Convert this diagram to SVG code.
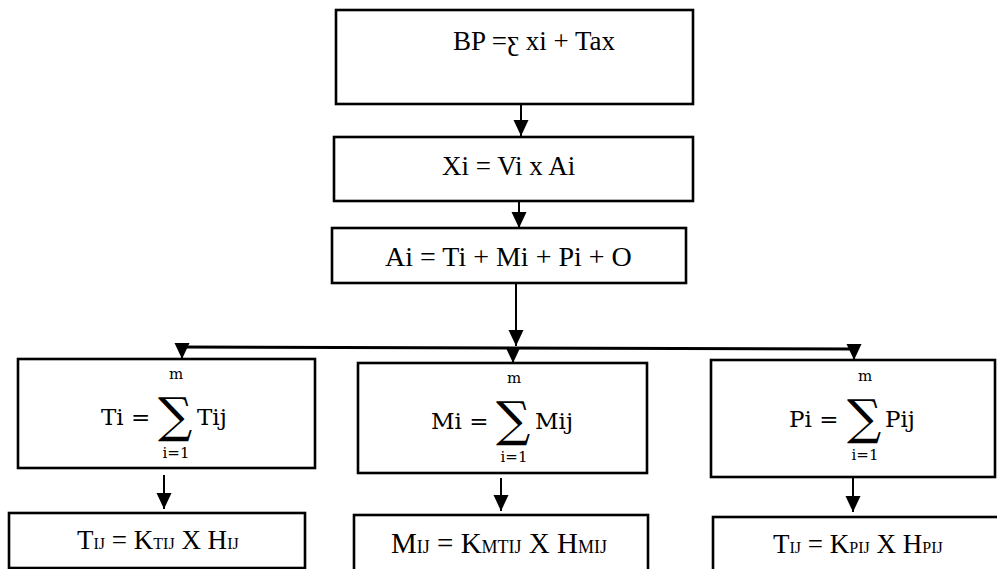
<svg xmlns="http://www.w3.org/2000/svg" width="997" height="569" viewBox="0 0 997 569">
<style>
.box{fill:#fff;stroke:#000;stroke-width:2.6}
.t{font-family:"Liberation Serif","Times New Roman",serif;font-size:27px;fill:#000}
.m{font-family:"DejaVu Serif",serif;font-size:23px;fill:#000}
.ms{font-family:"DejaVu Serif",serif;font-size:15px;fill:#000}
.sig{font-family:"DejaVu Serif",serif;font-size:48px;fill:#000}
.sub{font-size:16px}
.c line{stroke:#000;stroke-width:2}
</style>
<defs>
<marker id="ah" markerWidth="16" markerHeight="16" refX="16" refY="7.5" orient="auto" markerUnits="userSpaceOnUse">
<path d="M0,0 L16,7.5 L0,15 Z" fill="#000"/>
</marker>
</defs>
<g class="c">
<line x1="521" y1="104" x2="521" y2="136" marker-end="url(#ah)"/>
<line x1="519" y1="201" x2="519" y2="228" marker-end="url(#ah)"/>
<line x1="516" y1="284" x2="516" y2="346" marker-end="url(#ah)"/>
<line x1="181" y1="347" x2="856" y2="349" style="stroke-width:3"/>
<line x1="182" y1="348" x2="182" y2="359" marker-end="url(#ah)"/>
<line x1="513" y1="349" x2="513" y2="363" marker-end="url(#ah)"/>
<line x1="854" y1="350" x2="854" y2="360" marker-end="url(#ah)"/>
<line x1="164" y1="475" x2="164" y2="509" marker-end="url(#ah)"/>
<line x1="501" y1="478" x2="501" y2="511" marker-end="url(#ah)"/>
<line x1="853" y1="478" x2="853" y2="512" marker-end="url(#ah)"/>
</g>
<g id="bp">
<rect class="box" x="336" y="10" width="357" height="94"/>
<text class="t" x="453" y="50">BP =ƹ xi + Tax</text>
</g>
<g id="xi">
<rect class="box" x="334" y="137" width="359" height="64"/>
<text class="t" x="442" y="175">Xi = Vi x Ai</text>
</g>
<g id="ai">
<rect class="box" x="332" y="228" width="354" height="55"/>
<text class="t" x="385" y="266" style="font-size:28px">Ai = Ti + Mi + Pi + O</text>
</g>
<g id="ti">
<rect class="box" x="18" y="359" width="297" height="109"/>
<text class="m" x="101" y="425">Ti =</text>
<text class="sig" x="158" y="432">∑</text>
<text class="ms" x="176" y="379" text-anchor="middle">m</text>
<text class="ms" x="176" y="458" text-anchor="middle">i=1</text>
<text class="m" x="197" y="425">Tij</text>
</g>
<g id="mi">
<rect class="box" x="358" y="363" width="289" height="110"/>
<text class="m" x="431" y="429">Mi =</text>
<text class="sig" x="496" y="436">∑</text>
<text class="ms" x="514" y="383" text-anchor="middle">m</text>
<text class="ms" x="514" y="462" text-anchor="middle">i=1</text>
<text class="m" x="535" y="429">Mij</text>
</g>
<g id="pi">
<rect class="box" x="711" y="360" width="284" height="117"/>
<text class="m" x="789" y="427">Pi =</text>
<text class="sig" x="847" y="434">∑</text>
<text class="ms" x="865" y="381" text-anchor="middle">m</text>
<text class="ms" x="865" y="460" text-anchor="middle">i=1</text>
<text class="m" x="885" y="427">Pij</text>
</g>
<g id="tij">
<rect class="box" x="9" y="513" width="296" height="55"/>
<text class="t" x="77" y="549">T<tspan class="sub">IJ</tspan> = K<tspan class="sub">TIJ</tspan> X H<tspan class="sub">IJ</tspan></text>
</g>
<g id="mij">
<rect class="box" x="354" y="515" width="294" height="56"/>
<text class="t" x="391" y="553" style="font-size:29px">M<tspan class="sub" style="font-size:18px">IJ</tspan> = K<tspan class="sub" style="font-size:18px">MTIJ</tspan> X H<tspan class="sub" style="font-size:18px">MIJ</tspan></text>
</g>
<g id="pij">
<rect class="box" x="713" y="517" width="290" height="56"/>
<text class="t" x="773" y="553">T<tspan class="sub">IJ</tspan> = K<tspan class="sub">PIJ</tspan> X H<tspan class="sub">PIJ</tspan></text>
</g>
</svg>
